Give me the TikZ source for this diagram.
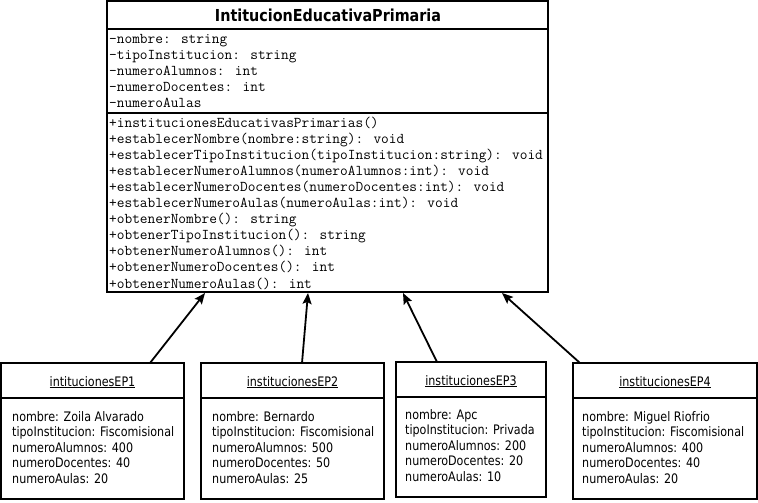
\documentclass[tikz,border=0pt]{standalone}
\usepackage{fontspec}
\setmainfont{DejaVu Sans}
\newfontfamily\monof{Latin Modern Mono}
\newfontfamily\titlef[FakeStretch=0.87]{DejaVu Sans}
\newfontfamily\objf[FakeStretch=0.85]{DejaVu Sans}
\usetikzlibrary{arrows.meta}
\tikzset{
  box/.style={draw=black, line width=1.8pt, fill=white, inner sep=0pt, outer sep=0pt, anchor=north west},
  sepline/.style={draw=black, line width=1.6pt},
  mono/.style={font=\monof\fontsize{14.95}{16}\selectfont, inner sep=0pt, anchor=base west},
  ttl/.style={font=\titlef\bfseries\fontsize{16.5}{19}\selectfont, inner sep=0pt, anchor=base},
  objt/.style={font=\objf\fontsize{13.1}{15}\selectfont, inner sep=0pt, anchor=base},
  obja/.style={font=\objf\fontsize{13.1}{15}\selectfont, inner sep=0pt, anchor=base west},
  arr/.style={draw=black, line width=1.8pt, -{Stealth[length=11pt,width=9pt,inset=2pt]}}
}
\begin{document}
\begin{tikzpicture}[x=1pt,y=-1pt]
\useasboundingbox[fill=white] (0,0) rectangle (758,503);

% main class
\node[box, minimum width=441pt, minimum height=291pt] (main) at (107,1) {};
\draw[sepline] (main.north west |- 0,29) -- (main.north east |- 0,29);
\draw[sepline] (main.north west |- 0,113) -- (main.north east |- 0,113);
\node[ttl] (title) at (328,22) {IntitucionEducativaPrimaria};
\foreach \t [count=\i] in {-nombre: string,-tipoInstitucion: string,-numeroAlumnos: int,-numeroDocentes: int,-numeroAulas}
  \node[mono] (attr\i) at (109,{44+15.8*(\i-1)}) {\t};
\foreach \t [count=\i] in {+institucionesEducativasPrimarias(),+establecerNombre(nombre:string): void,+establecerTipoInstitucion(tipoInstitucion:string): void,+establecerNumeroAlumnos(numeroAlumnos:int): void,+establecerNumeroDocentes(numeroDocentes:int): void,+establecerNumeroAulas(numeroAulas:int): void,+obtenerNombre(): string,+obtenerTipoInstitucion(): string,+obtenerNumeroAlumnos(): int,+obtenerNumeroDocentes(): int,+obtenerNumeroAulas(): int}
  \node[mono] (meth\i) at (109,{127+16.1*(\i-1)}) {\t};

% objects
\node[box, minimum width=183pt, minimum height=136pt] (e1) at (1,363) {};
\draw[sepline] (e1.west |- 0,398) -- (e1.east |- 0,398);
\node[objt] (e1t) at (92.5,386) {\underline{intitucionesEP1}};
\foreach \t [count=\i] in {nombre: Zoila Alvarado,tipoInstitucion: Fiscomisional,numeroAlumnos: 400,numeroDocentes: 40,numeroAulas: 20}
  \node[obja] (e1a\i) at (12,{421+15.6*(\i-1)}) {\t};

\node[box, minimum width=183pt, minimum height=136pt] (e2) at (201,363) {};
\draw[sepline] (e2.west |- 0,398) -- (e2.east |- 0,398);
\node[objt] (e2t) at (292.5,386) {\underline{institucionesEP2}};
\foreach \t [count=\i] in {nombre: Bernardo,tipoInstitucion: Fiscomisional,numeroAlumnos: 500,numeroDocentes: 50,numeroAulas: 25}
  \node[obja] (e2a\i) at (212,{421+15.6*(\i-1)}) {\t};

\node[box, minimum width=150pt, minimum height=135pt] (e3) at (396,362) {};
\draw[sepline] (e3.west |- 0,397) -- (e3.east |- 0,397);
\node[objt] (e3t) at (471,385) {\underline{institucionesEP3}};
\foreach \t [count=\i] in {nombre: Apc,tipoInstitucion: Privada,numeroAlumnos: 200,numeroDocentes: 20,numeroAulas: 10}
  \node[obja] (e3a\i) at (405,{419+15.6*(\i-1)}) {\t};

\node[box, minimum width=184pt, minimum height=136pt] (e4) at (573,363) {};
\draw[sepline] (e4.west |- 0,398) -- (e4.east |- 0,398);
\node[objt] (e4t) at (665,386) {\underline{institucionesEP4}};
\foreach \t [count=\i] in {nombre: Miguel Riofrio,tipoInstitucion: Fiscomisional,numeroAlumnos: 400,numeroDocentes: 40,numeroAulas: 20}
  \node[obja] (e4a\i) at (582,{421+15.6*(\i-1)}) {\t};

% connectors
\draw[arr] ([xshift=57.5pt]e1.north) -- ([xshift=-122.5pt,yshift=-1pt]main.south);
\draw[arr] ([xshift=9.5pt]e2.north) -- ([xshift=-19.5pt,yshift=-1pt]main.south);
\draw[arr] ([xshift=-34pt]e3.north) -- ([xshift=75.5pt,yshift=-1pt]main.south);
\draw[arr] ([xshift=-85pt]e4.north) -- ([xshift=174.5pt,yshift=-1pt]main.south);
\end{tikzpicture}
\end{document}
